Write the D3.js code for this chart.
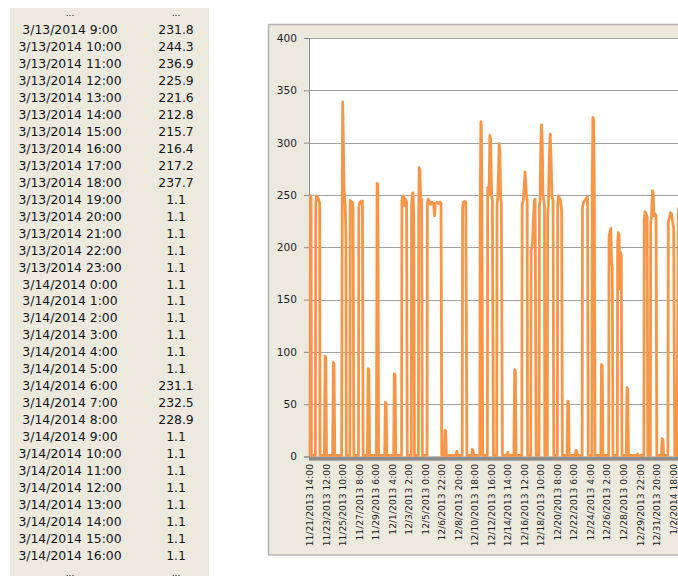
<!DOCTYPE html>
<html><head><meta charset="utf-8">
<script src="https://cdn.jsdelivr.net/npm/d3@7"></script>
<style>html,body{margin:0;padding:0;background:#fff;overflow:hidden}svg{display:block}</style>
</head><body>
<svg id="c" width="678" height="576"></svg>
<script>
// ---- table data (left panel) ----
const tableTimes = ["3/13/2014 9:00","3/13/2014 10:00","3/13/2014 11:00","3/13/2014 12:00","3/13/2014 13:00",
  "3/13/2014 14:00","3/13/2014 15:00","3/13/2014 16:00","3/13/2014 17:00","3/13/2014 18:00","3/13/2014 19:00",
  "3/13/2014 20:00","3/13/2014 21:00","3/13/2014 22:00","3/13/2014 23:00","3/14/2014 0:00","3/14/2014 1:00",
  "3/14/2014 2:00","3/14/2014 3:00","3/14/2014 4:00","3/14/2014 5:00","3/14/2014 6:00","3/14/2014 7:00",
  "3/14/2014 8:00","3/14/2014 9:00","3/14/2014 10:00","3/14/2014 11:00","3/14/2014 12:00","3/14/2014 13:00",
  "3/14/2014 14:00","3/14/2014 15:00","3/14/2014 16:00"];
const tableValues = [231.8,244.3,236.9,225.9,221.6,212.8,215.7,216.4,217.2,237.7,1.1,
  1.1,1.1,1.1,1.1,1.1,1.1,1.1,1.1,1.1,1.1,231.1,232.5,228.9,1.1,1.1,1.1,1.1,1.1,1.1,1.1,1.1];

// ---- chart data: [hours since start, value] (visible part of the chart) ----
const startTime = "11/21/2013 14:00";
const endTime = "1/3/2014 10:00";
const labelStepHours = 46;
const yTickValues = [0,50,100,150,200,250,300,350,400];
const loadSeries = [
 [0,1.1],[1,246],[2,249],[3,248],[4,1.1],
 [15,1.1],[16,240],[18,249],[20,248],[24,246],[27,242],[28,1.1],
 [40,1.1],[42,96],[44,95],[46,1.1],
 [63,1.1],[65,90],[67,88],[69,1.1],
 [88,1.1],[90,260],[91,339],[93,300],[95,254],[98,240],[100,213],[101,1.1],
 [111,1.1],[112,245],[114,244],[118,243],[120,236],[122,1.1],
 [135,1.1],[136,238],[138,242],[142,244],[146,244],[148,1.1],
 [160,1.1],[162,84],[164,83],[166,1.1],
 [185,1.1],[187,261],[189,260],[191,1.1],
 [208,1.1],[210,52],[212,50],[214,1.1],
 [233,1.1],[235,79],[237,78],[239,1.1],
 [255,1.1],[256,245],[258,248],[260,249],[263,240],[266,246],[269,243],[271,1.1],
 [282,1.1],[283,240],[285,251],[287,252],[289,229],[291,1.1],
 [302,1.1],[303,235],[304,276],[306,274],[308,248],[311,245],[313,1.1],
 [326,1.1],[327,240],[329,246],[332,244],[336,241],[340,243],[344,242],[347,230],[349,242],[353,243],[358,242],[362,243],[365,242],[367,1.1],
 [374,1.1],[376,25],[378,24],[380,1.1],
 [407,1.1],[409,5],[411,1.1],
 [424,1.1],[425,238],[427,243],[430,244],[434,243],[437,1.1],
 [451,1.1],[452,7],[454,6],[456,1.1],
 [473,1.1],[474,230],[476,320],[477,318],[479,245],[481,1.1],
 [494,1.1],[495,257],[497,256],[499,250],[501,307],[503,302],[506,248],[508,245],[511,1.1],
 [520,1.1],[521,240],[523,248],[525,270],[527,299],[529,290],[531,248],[533,242],[536,1.1],
 [549,1.1],[551,4],[553,1.1],
 [568,1.1],[570,83],[572,82],[574,1.1],
 [590,1.1],[591,240],[594,245],[597,260],[599,272],[601,262],[603,248],[605,245],[606,1.1],
 [615,1.1],[616,197],[618,200],[620,205],[622,225],[625,245],[627,246],[630,1.1],
 [638,1.1],[639,240],[641,245],[643,300],[645,317],[647,300],[649,250],[651,245],[653,240],[654,1.1],
 [661,1.1],[662,231],[664,240],[667,290],[669,308],[671,290],[674,248],[677,245],[679,1.1],
 [689,1.1],[690,240],[692,249],[695,247],[698,245],[701,234],[703,1.1],
 [716,1.1],[718,53],[720,52],[722,1.1],
 [739,1.1],[741,6],[743,5],[745,1.1],
 [758,1.1],[759,238],[762,243],[766,245],[770,247],[773,248],[775,1.1],
 [785,1.1],[786,250],[788,324],[790,322],[792,250],[794,1.1],
 [810,1.1],[812,88],[814,87],[816,1.1],
 [832,1.1],[833,210],[836,216],[838,218],[840,185],[842,180],[844,1.1],
 [856,1.1],[857,205],[859,214],[861,212],[863,160],[865,195],[867,192],[869,1.1],
 [881,1.1],[883,66],[885,64],[887,1.1],
 [910,1.1],[912,2.5],[914,1.1],
 [930,1.1],[931,225],[933,234],[936,232],[939,229],[941,1.1],
 [948,1.1],[949,224],[951,228],[954,254],[956,252],[958,230],[961,232],[964,230],[966,1.1],
 [979,1.1],[981,17],[983,16],[985,1.1],
 [997,1.1],[998,224],[1001,228],[1004,233],[1007,232],[1010,225],[1013,218],[1016,1.1],
 [1022,1.1],[1024,100],[1026,235],[1030,240]
];

// ---- drawing ----
const svg = d3.select("#c");
const beige = "#ECE9DF";
const font = "'DejaVu Sans', Verdana, sans-serif";

// left table
svg.append("rect").attr("x",10).attr("y",8).attr("width",199).attr("height",580).attr("fill",beige);
const rowY = i => 13 + i * 16.95;
const tbl = svg.append("g").attr("font-family", font).attr("font-size", 12.4).attr("fill","#151515").attr("text-anchor","middle");
tbl.append("text").attr("x",70).attr("y",rowY(0)).attr("dy","0.35em").attr("font-size",9).text("...");
tbl.append("text").attr("x",176).attr("y",rowY(0)).attr("dy","0.35em").attr("font-size",9).text("...");
tableTimes.forEach((t,i)=>{
  tbl.append("text").attr("x",70).attr("y",rowY(i+1)).attr("dy","0.35em").text(t);
  tbl.append("text").attr("x",176).attr("y",rowY(i+1)).attr("dy","0.35em").text(d3.format(".1f")(tableValues[i]));
});
const lastRow = tableTimes.length + 1;
tbl.append("text").attr("x",70).attr("y",rowY(lastRow)).attr("dy","0.35em").attr("font-size",9).text("...");
tbl.append("text").attr("x",176).attr("y",rowY(lastRow)).attr("dy","0.35em").attr("font-size",9).text("...");

// chart frame (continues past the right edge of the picture)
svg.append("rect").attr("x",268.5).attr("y",24.5).attr("width",500).attr("height",530.5)
  .attr("fill",beige).attr("stroke","#B4B4B4").attr("stroke-width",1.5);

const parse = d3.utcParse("%m/%d/%Y %H:%M");
const t0 = parse(startTime), t1 = parse(endTime);
const totalHours = (t1 - t0) / 3600000;
const plotLeft = 309, plotTop = 38, plotBottom = 456.5;
const x = d3.scaleLinear().domain([0, totalHours]).range([310, 310 + totalHours * 0.359]);
const y = d3.scaleLinear().domain([0, 400]).range([plotBottom, plotTop]);
const plotRight = 760;

svg.append("rect").attr("x",plotLeft).attr("y",plotTop).attr("width",plotRight-plotLeft).attr("height",plotBottom-plotTop).attr("fill","#fff");

// gridlines
svg.append("g").selectAll("line").data(yTickValues.filter(v=>v>0)).join("line")
  .attr("x1",plotLeft).attr("x2",plotRight)
  .attr("y1",d=>Math.round(y(d))+0.5).attr("y2",d=>Math.round(y(d))+0.5)
  .attr("stroke","#A3A3A3").attr("stroke-width",1);

// y axis
const yAxis = svg.append("g").attr("transform",`translate(${plotLeft},0)`)
  .call(d3.axisLeft(y).tickValues(yTickValues).tickSize(5).tickPadding(7).tickFormat(d3.format("d")));
yAxis.select(".domain").attr("stroke","#8C8C8C");
yAxis.selectAll(".tick line").attr("stroke","#8C8C8C");
yAxis.selectAll("text").attr("font-family",font).attr("font-size",10.6).attr("fill","#1e1e1e");

// x axis band (dense category tick marks)
svg.append("rect").attr("x",plotLeft).attr("y",plotBottom).attr("width",plotRight-plotLeft).attr("height",4.2).attr("fill","#8C8C8C");

// x labels
const fmt = d3.utcFormat("%-m/%-d/%Y %-H:%M");
const labelHours = d3.range(0, totalHours, labelStepHours);
svg.append("g").selectAll("text").data(labelHours).join("text")
  .attr("transform", h => `translate(${x(h)},464) rotate(-90)`)
  .attr("text-anchor","end").attr("dy","0.35em")
  .attr("font-family",font).attr("font-size",9.2).attr("fill","#1e1e1e")
  .text(h => fmt(new Date(t0.getTime() + h*3600000)));

// series
svg.append("path").datum(loadSeries)
  .attr("d", d3.line().x(d=>x(d[0])).y(d=>y(d[1])))
  .attr("fill","none").attr("stroke","#F79646").attr("stroke-width",2.8).attr("stroke-linejoin","round");
</script>
</body></html>
